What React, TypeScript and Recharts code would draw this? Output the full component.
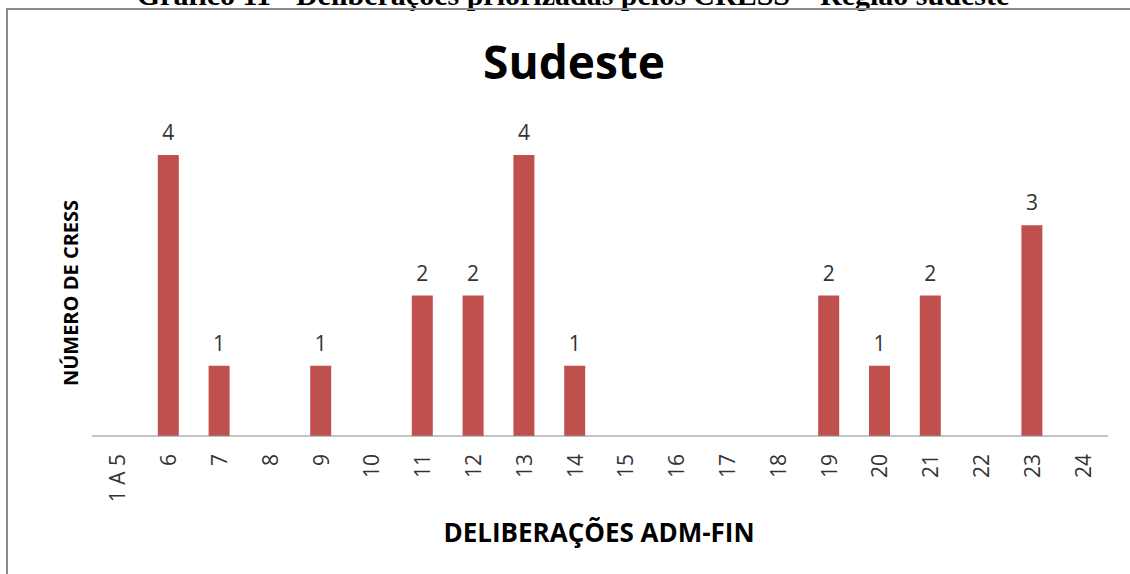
import React from 'react';
import { BarChart, Bar, XAxis, YAxis, LabelList } from 'recharts';

// deliberações (eixo X) e número de CRESS que priorizaram cada uma
const categories = ['1 A 5', '6', '7', '8', '9', '10', '11', '12', '13', '14', '15', '16', '17', '18', '19', '20', '21', '22', '23', '24'];
const cressCount = [0, 4, 1, 0, 1, 0, 2, 2, 4, 1, 0, 0, 0, 0, 2, 1, 2, 0, 3, 0];

const data = categories.map((name, i) => ({ name, value: cressCount[i] }));

const font = '"Open Sans", "DejaVu Sans", sans-serif';

const RotatedTick = (props: any) => {
  const { x, y, payload } = props;
  return (
    <text
      x={0}
      y={0}
      transform={`translate(${x + 8},${y + 10}) rotate(-90)`}
      textAnchor="end"
      fontFamily={font}
      fontSize={21}
      fill="#333"
    >
      {payload.value}
    </text>
  );
};

const App: React.FC = () => {
  return (
    <div style={{ position: 'absolute', left: 0, top: 0, width: 1130, height: 574, background: '#fff', overflow: 'hidden' }}>
      {/* legenda do gráfico, cortada no topo */}
      <div
        style={{
          position: 'absolute', left: 0, width: 1146, top: -22, textAlign: 'center', whiteSpace: 'nowrap',
          fontFamily: '"Liberation Serif", serif', fontWeight: 'bold', fontSize: 30, color: '#000',
        }}
      >
        Gráfico 11 - Deliberações priorizadas pelos CRESS – Região sudeste
      </div>
      <div
        style={{
          position: 'absolute', left: 6, top: 8, width: 1140, height: 600,
          borderLeft: '2px solid #8a8a8a', borderTop: '2px solid #8a8a8a',
        }}
      />
      <div
        style={{
          position: 'absolute', left: 0, width: 1148, top: 30, textAlign: 'center',
          fontFamily: font, fontWeight: 'bold', fontSize: 46, color: '#000',
        }}
      >
        Sudeste
      </div>
      <div
        style={{
          position: 'absolute', left: 70, top: 293, transform: 'translate(-50%, -50%) rotate(-90deg)',
          whiteSpace: 'nowrap', fontFamily: font, fontWeight: 'bold', fontSize: 20, color: '#000',
        }}
      >
        NÚMERO DE CRESS
      </div>
      <div
        style={{
          position: 'absolute', left: 0, width: 1198, top: 514, textAlign: 'center',
          fontFamily: font, fontWeight: 'bold', fontSize: 26, color: '#000',
        }}
      >
        DELIBERAÇÕES ADM-FIN
      </div>
      <div style={{ position: 'absolute', left: 0, top: 0 }}>
        <BarChart width={1130} height={574} data={data} margin={{ top: 155, right: 22, bottom: 58, left: 92 }}>
          <XAxis
            dataKey="name"
            interval={0}
            tickLine={false}
            axisLine={{ stroke: '#888', strokeWidth: 1 }}
            tick={<RotatedTick />}
            height={80}
          />
          <YAxis hide domain={[0, 4]} />
          <Bar dataKey="value" fill="#C0504D" barSize={21} isAnimationActive={false}>
            <LabelList
              dataKey="value"
              position="top"
              offset={15}
              formatter={(v: any) => (v ? v : '')}
              fontFamily={font}
              fontSize={21}
              fill="#333"
            />
          </Bar>
        </BarChart>
      </div>
    </div>
  );
};

export default App;
